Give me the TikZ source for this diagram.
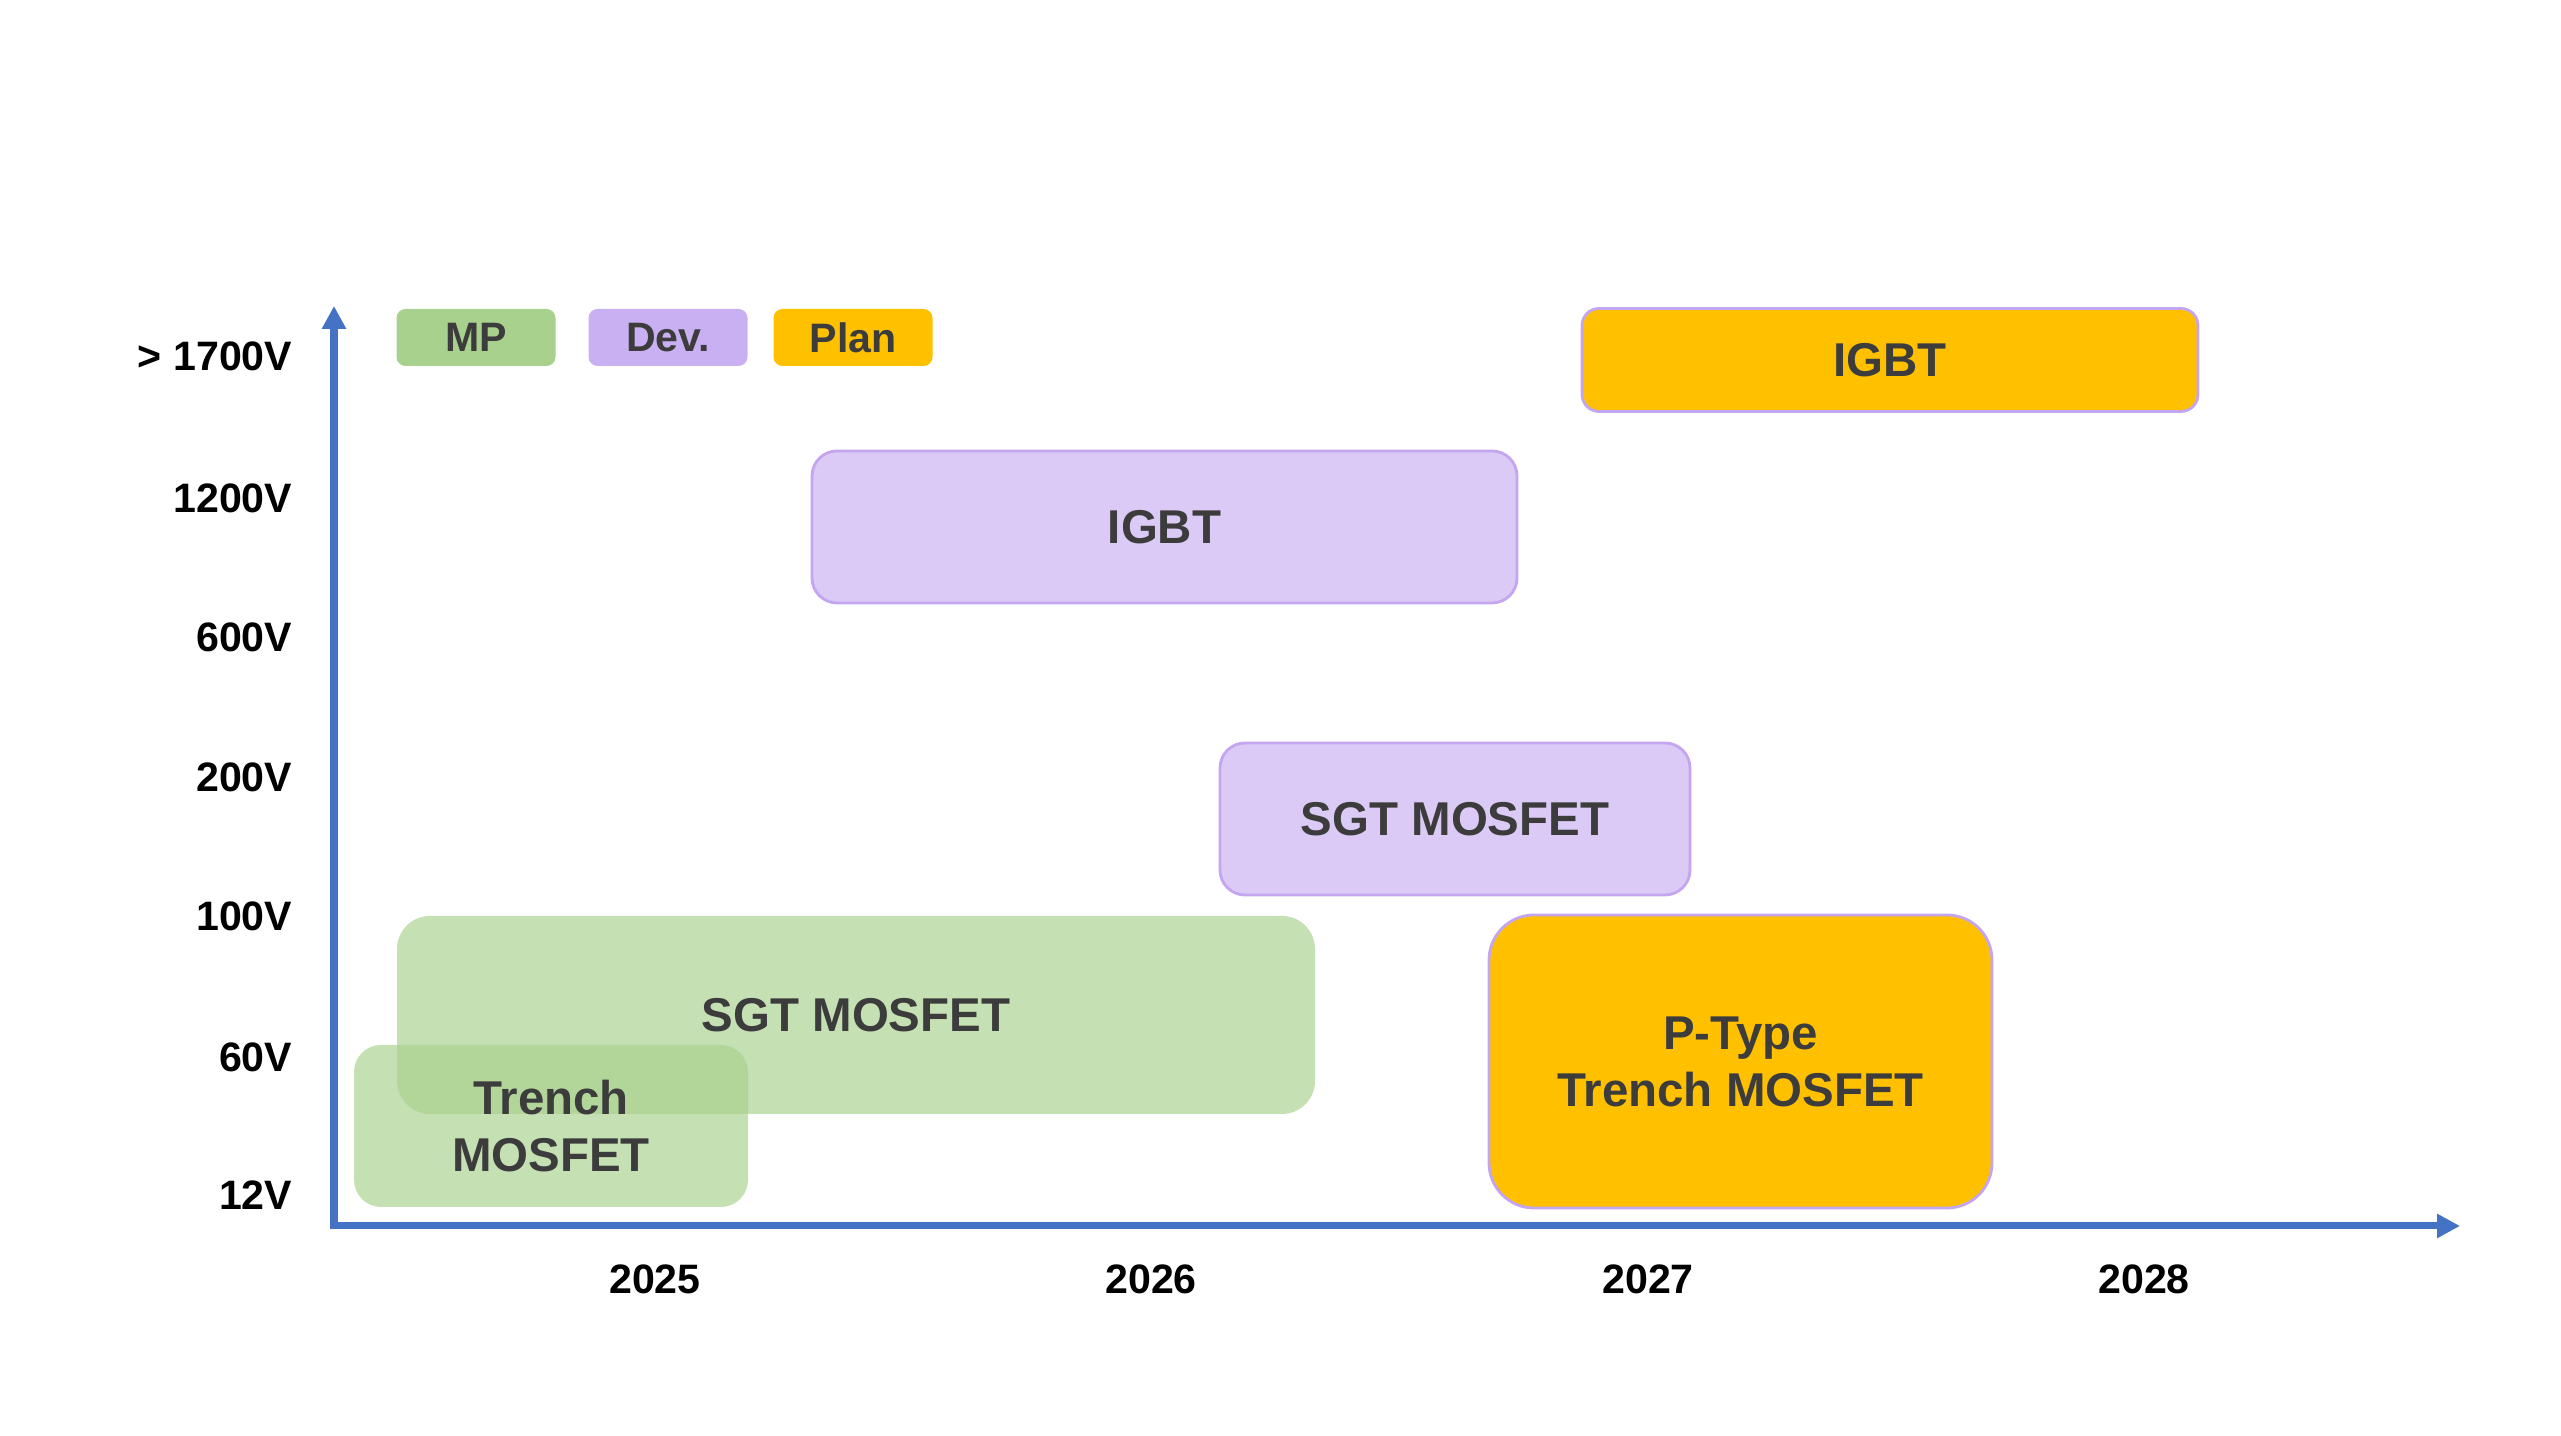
\documentclass[tikz,border=0pt]{standalone}
\usepackage{fontspec}
\setmainfont{Liberation Sans}
\usetikzlibrary{arrows.meta}
\definecolor{mpGreen}{RGB}{169,209,142}
\definecolor{devPurple}{RGB}{201,176,242}
\definecolor{devLight}{RGB}{220,202,246}
\definecolor{devEdge}{RGB}{196,166,240}
\definecolor{planOrange}{RGB}{255,192,0}
\definecolor{axisBlue}{RGB}{68,114,196}
\definecolor{boxText}{RGB}{60,60,60}
\tikzset{
  axis/.style={draw=axisBlue,line width=2pt,{Triangle[length=0.23cm,width=0.23cm]}-{Triangle[length=0.23cm,width=0.23cm]}},
  voltlabel/.style={anchor=east,inner sep=0pt,font=\fontsize{11.7}{14}\selectfont\bfseries},
  yearlabel/.style={inner sep=0pt,font=\fontsize{11.7}{14}\selectfont\bfseries},
  legendbox/.style={rounded corners=0.09cm,text=boxText,minimum width=1.59cm,minimum height=0.57cm,inner sep=0pt,font=\fontsize{11.7}{14}\selectfont\bfseries},
  bar/.style={rounded corners=#1,text=boxText,align=center,inner sep=0pt,font=\fontsize{13.5}{16.2}\selectfont\bfseries},
  mpbar/.style={bar=#1,fill=mpGreen,fill opacity=0.67,text opacity=1},
  devbar/.style={bar=#1,fill=devLight,draw=devEdge,line width=0.8pt},
  planbar/.style={bar=#1,fill=planOrange,draw=devEdge,line width=0.8pt}
}

\begin{document}
\begin{tikzpicture}
        \useasboundingbox (0,0) rectangle (25.61,14.36);
        % axes
        \coordinate (origin) at (3.34,2.10);
        \coordinate (ytop) at (3.34,11.30);
        \coordinate (xend) at (24.60,2.10);
        \draw[axis] (ytop) -- (origin) -- (xend);
        % voltage classes
        \node[voltlabel] (v1700) at (2.93,10.80) {> 1700V};
        \node[voltlabel] (v1200) at (2.93,9.38) {1200V};
        \node[voltlabel] (v600) at (2.93,7.99) {600V};
        \node[voltlabel] (v200) at (2.93,6.59) {200V};
        \node[voltlabel] (v100) at (2.93,5.20) {100V};
        \node[voltlabel] (v60) at (2.93,3.79) {60V};
        \node[voltlabel] (v12) at (2.93,2.41) {12V};
        % years
        \node[yearlabel] (y2025) at (6.55,1.57) {2025};
        \node[yearlabel] (y2026) at (11.51,1.57) {2026};
        \node[yearlabel] (y2027) at (16.48,1.57) {2027};
        \node[yearlabel] (y2028) at (21.44,1.57) {2028};
        % legend
        \node[legendbox,fill=mpGreen] (legMP) at (4.76,10.985) {MP};
        \node[legendbox,fill=devPurple] (legDev) at (6.68,10.985) {Dev.};
        \node[legendbox,fill=planOrange] (legPlan) at (8.53,10.985) {Plan};
        % roadmap bars
        \node[planbar=0.17cm,minimum width=6.16cm,minimum height=1.03cm] (igbtPlan) at (18.90,10.76) {IGBT};
        \node[devbar=0.25cm,minimum width=7.05cm,minimum height=1.52cm] (igbtDev) at (11.645,9.09) {IGBT};
        \node[devbar=0.25cm,minimum width=4.70cm,minimum height=1.52cm] (sgtDev) at (14.55,6.17) {SGT MOSFET};
        \node[mpbar=0.33cm,minimum width=9.18cm,minimum height=1.98cm] (sgtMP) at (8.56,4.21) {SGT MOSFET};
        \node[mpbar=0.27cm,minimum width=3.94cm,minimum height=1.62cm] (trenchMP) at (5.51,3.10) {Trench\\MOSFET};
        \node[planbar=0.45cm,minimum width=5.03cm,minimum height=2.93cm] (ptypePlan) at (17.405,3.745) {P-Type\\Trench MOSFET};
      \end{tikzpicture}
\end{document}
